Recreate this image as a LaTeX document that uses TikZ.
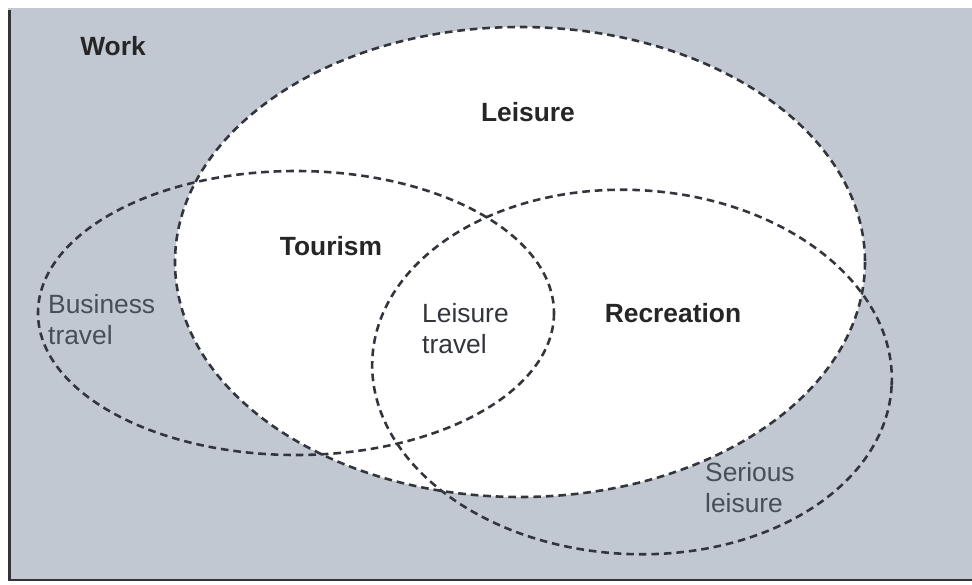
\documentclass[tikz,border=0pt]{standalone}
\usepackage{fontspec}
\setmainfont{Liberation Sans}
\begin{document}
\begin{tikzpicture}[x=0.03cm,y=-0.03cm]
  \definecolor{paper}{RGB}{194,200,210}
  \definecolor{ink}{RGB}{50,53,60}
  \definecolor{softink}{RGB}{72,78,88}
  \tikzset{
    setline/.style={draw=ink, line width=2.2pt, dash pattern=on 6.5pt off 4.2pt},
    bigtag/.style={font=\fontsize{22.5}{26}\selectfont\bfseries, text=black!85, inner sep=0pt},
    smalltag/.style={font=\fontsize{22.5}{26.4}\selectfont, align=left, inner sep=0pt, anchor=west},
  }
  \useasboundingbox (0,0) rectangle (972,585);
  % page and grey field
  \fill[white] (0,0) rectangle (972,585);
  \fill[paper] (8,8) rectangle (972,581);
  \draw[black!80, line width=2.4pt] (9.5,10) -- (9.5,580) -- (972,580);

  % leisure domain (white)
  \fill[white] (520,262) ellipse [x radius=345, y radius=235];

  % set boundaries
  \draw[setline] (520,262) ellipse [x radius=345, y radius=235];
  \draw[setline] (296,313) ellipse [x radius=258, y radius=142];
  \draw[setline, rotate around={-3:(632,372)}] (632,372) ellipse [x radius=260, y radius=182];

  % labels
  \node[bigtag] (work) at (113,46) {Work};
  \node[bigtag] (leisure) at (528,112) {Leisure};
  \node[bigtag] (tourism) at (331,246) {Tourism};
  \node[bigtag] (recreation) at (673,313) {Recreation};
  \node[smalltag, text=ink] (ltravel) at (422,329) {Leisure\\travel};
  \node[smalltag, text=softink] (btravel) at (48,320) {Business\\travel};
  \node[smalltag, text=softink] (sleisure) at (705,488) {Serious\\leisure};
\end{tikzpicture}
\end{document}
